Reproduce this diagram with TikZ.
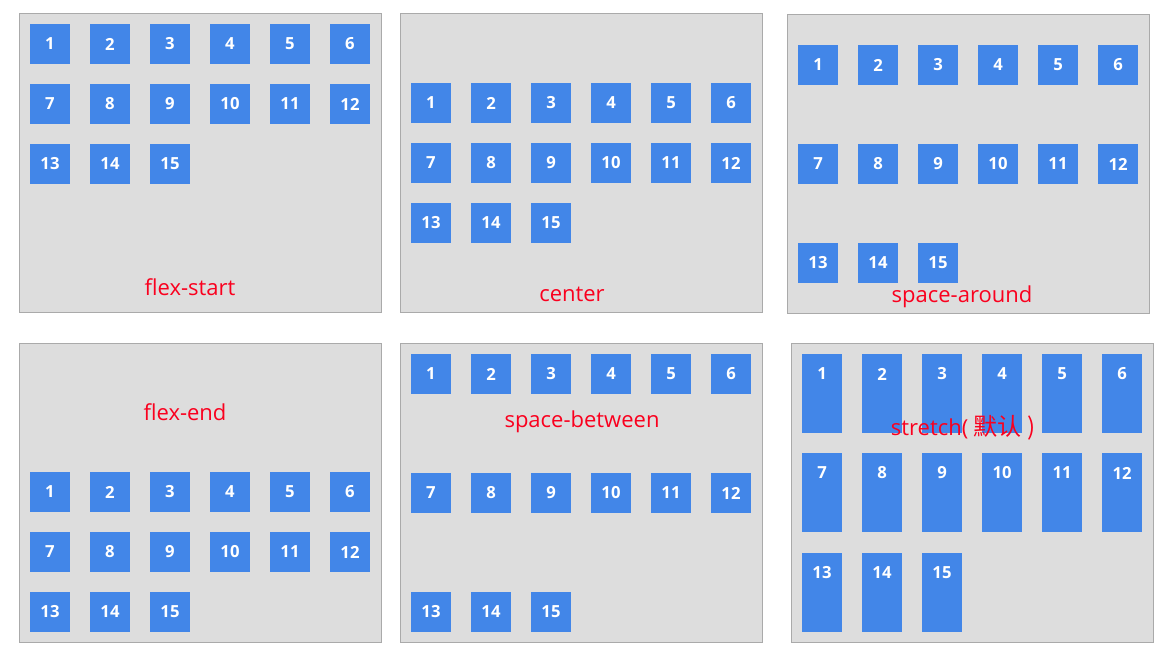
\documentclass[tikz,border=0pt]{standalone}
\usepackage{fontspec}
\setmainfont{Open Sans}
\newfontfamily\cjkfont{Noto Sans CJK SC}
\usepackage{tikz}
\usetikzlibrary{positioning}

\definecolor{panelfill}{RGB}{221,221,221}
\definecolor{panelline}{RGB}{170,170,170}
\definecolor{itemblue}{RGB}{66,134,232}
\definecolor{tagred}{RGB}{250,0,30}

\begin{document}
\begin{tikzpicture}[x=0.75pt, y=-0.75pt, panel/.style={rectangle,draw=panelline,fill=panelfill,line width=0.75pt,anchor=north west,inner sep=0pt,minimum width=271.5pt,minimum height=224.25pt}, item/.style={rectangle,fill=itemblue,anchor=north west,inner sep=0pt,minimum width=30pt}, num/.style={text=white,font=\fontsize{12.5}{14}\selectfont\bfseries,inner sep=0pt}, tag/.style={text=tagred,font=\fontsize{16.5}{18}\selectfont,anchor=base,inner sep=0pt}]
\useasboundingbox (0,0) rectangle (1167,653);
% containers
\node[panel] (start) at (19,13) {};
\node[panel] (center) at (400,13) {};
\node[panel] (around) at (787,14) {};
\node[panel] (end) at (19,343) {};
\node[panel] (between) at (400,343) {};
\node[panel] (stretch) at (791,343) {};
% flex items: name/left/row tops/height
\foreach \p/\px/\ra/\rb/\rc/\bh in {a/19/24/84/144/30pt, b/400/83/143/203/30pt, c/787/45/144/243/30pt, d/19/472/532/592/30pt, e/400/354/473/592/30pt, f/791/354/453/553/59.25pt}{
  \foreach \i in {1,...,15}{
    \pgfmathtruncatemacro\col{mod(\i-1,6)}
    \pgfmathtruncatemacro\row{div(\i-1,6)}
    \pgfmathsetmacro\yy{\row==0 ? \ra : (\row==1 ? \rb : \rc)}
    \pgfmathsetmacro\xx{\px+11+60*\col}
    \node[item,minimum height=\bh] (\p\i) at (\xx,\yy) {};
    \node[num] (n\p\i) at (\xx+20,\yy+20) {\i};
  }
}
% labels
\node[tag] (tstart) at (190,295) {flex-start};
\node[tag] (tcenter) at (572,301) {center};
\node[tag] (taround) at (962,302) {space-around};
\node[tag] (tend) at (185,420) {flex-end};
\node[tag] (tbetween) at (582,427) {space-between};
\node[tag] (tstretch) at (963,435) {stretch(\cjkfont\fontsize{18}{20}\selectfont{} 默认 )};
\end{tikzpicture}
\end{document}
